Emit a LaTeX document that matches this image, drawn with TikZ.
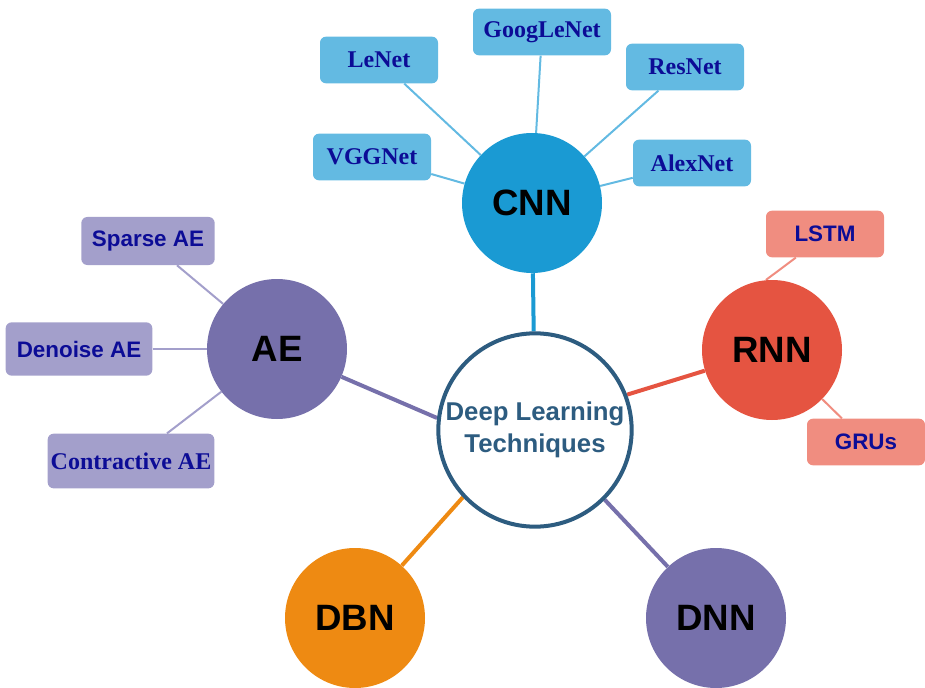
\documentclass[tikz,border=0pt]{standalone}
\usepackage{fontspec}
\setmainfont{Liberation Serif}
\setsansfont{Liberation Sans}
\usepackage{tikz}
\usetikzlibrary{positioning,shapes.geometric,backgrounds}
\definecolor{hubblue}{RGB}{45,92,128}
\definecolor{cnnblue}{RGB}{26,154,211}
\definecolor{cnnleaf}{RGB}{99,186,226}
\definecolor{aepurple}{RGB}{118,112,171}
\definecolor{aeleaf}{RGB}{163,159,203}
\definecolor{rnnred}{RGB}{229,84,65}
\definecolor{rnnleaf}{RGB}{240,141,128}
\definecolor{dbnorange}{RGB}{238,138,18}
\definecolor{leaftext}{RGB}{12,12,150}
\tikzset{
  hubnode/.style={circle, draw=hubblue, line width=3pt, fill=white, inner sep=0pt,
                  minimum size=145pt, text=hubblue, align=center,
                  font=\sffamily\bfseries\fontsize{19.3}{24}\selectfont},
  topicnode/.style={circle, inner sep=0pt, minimum size=105pt, text=black,
                    font=\sffamily\bfseries\fontsize{27.5}{30}\selectfont},
  leafbox/.style={rounded corners=4.5pt, minimum width=88.5pt, minimum height=35pt,
                  inner sep=2pt, text=leaftext},
  serifleaf/.style={leafbox, font=\rmfamily\bfseries\fontsize{18}{21}\selectfont},
  sansleaf/.style={leafbox, font=\sffamily\bfseries\fontsize{16.8}{20}\selectfont},
  link/.style={line width=3pt},
  twig/.style={line width=1.5pt}
}

\begin{document}
\begin{tikzpicture}[x=0.75pt,y=-0.75pt]
  \useasboundingbox (0,0) rectangle (925,688);

  % Hub and the five families
  \node[hubnode] (hub) at (535,430) {Deep Learning\\Techniques};
  \node[topicnode, fill=cnnblue]   (cnn) at (532,203) {CNN};
  \node[topicnode, fill=aepurple]  (ae)  at (277,349) {AE};
  \node[topicnode, fill=rnnred]    (rnn) at (772,350) {RNN};
  \node[topicnode, fill=dbnorange] (dbn) at (355,618) {DBN};
  \node[topicnode, fill=aepurple]  (dnn) at (716,618) {DNN};

  % CNN leaves
  \node[serifleaf, fill=cnnleaf] (lenet)  at (379,60)  {LeNet};
  \node[serifleaf, fill=cnnleaf, minimum width=103.5pt] (googlenet) at (542,32) {GoogLeNet};
  \node[serifleaf, fill=cnnleaf] (resnet) at (685,67)  {ResNet};
  \node[serifleaf, fill=cnnleaf] (vggnet) at (372,157) {VGGNet};
  \node[serifleaf, fill=cnnleaf] (alexnet) at (692,163) {AlexNet};

  % AE leaves
  \node[sansleaf, fill=aeleaf, minimum width=100pt, minimum height=36pt] (sparse) at (148,241) {Sparse AE};
  \node[sansleaf, fill=aeleaf, minimum width=110pt, minimum height=40pt] (denoise) at (79,349) {Denoise AE};
  \node[serifleaf, fill=aeleaf, minimum width=125pt, minimum height=41pt] (contractive) at (131,461) {Contractive AE};

  % RNN leaves
  \node[sansleaf, fill=rnnleaf] (lstm) at (825,234) {LSTM};
  \node[sansleaf, fill=rnnleaf] (grus) at (866,442) {GRUs};

  % Connectors
  \begin{scope}[on background layer]
    \draw[link, cnnblue]   (cnn) -- (hub);
    \draw[link, aepurple]  (ae)  -- (hub.173);
    \draw[link, rnnred]    (rnn) -- (hub.21);
    \draw[link, dbnorange] (dbn) -- (hub.223);
    \draw[link, aepurple]  (dnn) -- (hub.-45);

    \draw[twig, cnnleaf] (lenet) -- (cnn);
    \draw[twig, cnnleaf] (googlenet) -- (cnn);
    \draw[twig, cnnleaf] (resnet) -- (cnn);
    \draw[twig, cnnleaf] (vggnet) -- (cnn);
    \draw[twig, cnnleaf] (alexnet) -- (cnn);

    \draw[twig, aeleaf] (sparse) -- (ae);
    \draw[twig, aeleaf] (denoise) -- (ae);
    \draw[twig, aeleaf] (contractive) -- (ae);

    \draw[twig, rnnleaf] (lstm.219) -- (rnn.95);
    \draw[twig, rnnleaf] (grus) -- (rnn);
  \end{scope}
\end{tikzpicture}
\end{document}
